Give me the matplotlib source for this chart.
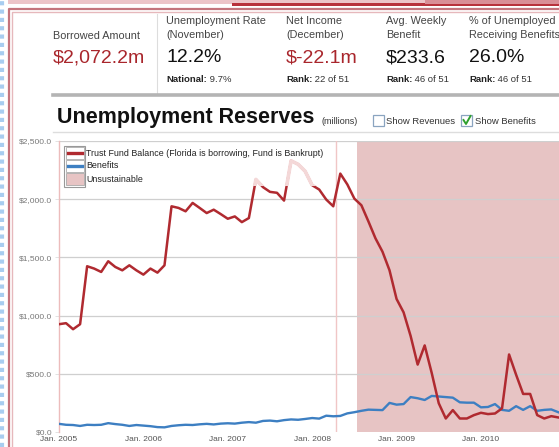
import matplotlib.pyplot as plt
from matplotlib.patches import Rectangle
from matplotlib.lines import Line2D

W, H = 559, 447

# monthly values starting Jan. 2005, millions of dollars
trust_fund = [926, 935, 883, 926, 1424, 1404, 1375, 1467, 1418, 1389, 1432, 1389,
              1352, 1404, 1369, 1432, 1939, 1925, 1896, 1968, 1925, 1881, 1910, 1872,
              1832, 1852, 1803, 1838, 2170, 2104, 2063, 2055, 1988, 2330, 2300, 2240,
              2120, 2083, 1997, 1939, 2220, 2127, 2005, 1948, 1809, 1664, 1549, 1389,
              1143, 1028, 825, 579, 744, 507, 247, 116, 188, 116, 116, 145,
              165, 154, 159, 203, 666, 492, 327, 327, 145, 116, 136, 125]
benefits = [70, 62, 60, 52, 62, 60, 62, 76, 68, 62, 52, 60,
            55, 50, 42, 40, 52, 58, 62, 60, 66, 70, 65, 72,
            75, 72, 80, 85, 80, 95, 98, 92, 102, 108, 105, 112,
            120, 115, 140, 135, 138, 160, 170, 182, 192, 190, 188, 250,
            235, 240, 300, 290, 275, 310, 305, 300, 295, 255, 252, 252,
            212, 215, 240, 190, 182, 222, 190, 222, 182, 190, 194, 170]
months = list(range(len(trust_fund)))

year_labels = ['Jan. 2005', 'Jan. 2006', 'Jan. 2007', 'Jan. 2008', 'Jan. 2009', 'Jan. 2010']
year_ticks = [0, 12, 24, 36, 48, 60]
y_ticks = [0, 500, 1000, 1500, 2000, 2500]

marker_month = 39.4        # thin vertical marker
unsustainable_from = 42.4  # start of shaded region
faded_before = 39.4        # line drawn faded above faded_level before this month
faded_level = 2110

header_titles = ['Borrowed Amount', 'Unemployment Rate\n(November)', 'Net Income\n(December)',
                 'Avg. Weekly\nBenefit', '% of Unemployed\nReceiving Benefits']
header_values = ['$2,072.2m', '12.2%', '$-22.1m', '$233.6', '26.0%']
header_colors = ['#a9262c', '#111111', '#a9262c', '#111111', '#111111']
header_notes = [None, ('National:', ' 9.7%'), ('Rank:', ' 22 of 51'),
                ('Rank:', ' 46 of 51'), ('Rank:', ' 46 of 51')]
header_x = [53, 166, 286, 386, 469]

legend_labels = ['Trust Fund Balance (Florida is borrowing, Fund is Bankrupt)',
                 'Benefits', 'Unsustainable']

RED = '#b02a30'
BLUE = '#3d7fc2'
SHADE = '#e7c4c4'
FONT = 'Liberation Sans'

plt.rcParams['font.family'] = [FONT, 'DejaVu Sans']


def fx(x):
    return x / W


def fy(y):
    return 1 - y / H


fig = plt.figure(figsize=(W / 100, H / 100), dpi=100)
fig.patch.set_facecolor('white')

# page decoration: dotted strip, frame, top bar
fig.add_artist(Line2D([fx(2), fx(2)], [0, 1], color='#a8cdf0', lw=3, ls=(0, (1, 1))))
fig.add_artist(Rectangle((fx(8), fy(4)), fx(W), 4 / H, color='#ecc4c8', lw=0))
fig.add_artist(Rectangle((fx(232), fy(6)), fx(W), 3 / H, color='#b8323c', lw=0))
fig.add_artist(Rectangle((fx(425), fy(4)), fx(W), 4 / H, color='#d98e96', lw=0))
fig.add_artist(Line2D([fx(8.5), fx(8.5), 1], [0, fy(8.5), fy(8.5)], color='#c4747c', lw=1.6))
fig.add_artist(Line2D([fx(11.5), fx(11.5), 1], [0, fy(11.5), fy(11.5)], color='#e6b8bc', lw=1.0))

# header metrics
fig.canvas.draw()
renderer = fig.canvas.get_renderer()
for i in range(len(header_titles)):
    x = fx(header_x[i])
    lines = header_titles[i].split('\n')
    if len(lines) == 1:
        fig.text(x, fy(36), lines[0], fontsize=7.8, color='#444444', va='center')
    else:
        fig.text(x, fy(21), lines[0], fontsize=7.8, color='#444444', va='center')
        fig.text(x, fy(35.5), lines[1], fontsize=7.8, color='#444444', va='center')
    fig.text(x, fy(58), header_values[i], fontsize=14, color=header_colors[i], va='center')
    if header_notes[i]:
        bold, rest = header_notes[i]
        t = fig.text(x, fy(80), bold, fontsize=6.8, fontweight='bold', color='#222222', va='center')
        bb = t.get_window_extent(renderer)
        fig.text(bb.x1 / W, fy(80), rest, fontsize=6.8, color='#333333', va='center')

fig.add_artist(Line2D([fx(157), fx(157)], [fy(14), fy(93)], color='#dddddd', lw=0.8))
fig.add_artist(Line2D([fx(53), 1], [fy(95), fy(95)], color='#b4b4b4', lw=2.6))

# chart title row
fig.text(fx(57), fy(118), 'Unemployment Reserves', fontsize=15.5, fontweight='bold',
         color='#111111', va='center')
fig.text(fx(321), fy(121), '(millions)', fontsize=6.5, color='#333333', va='center')
fig.add_artist(Rectangle((fx(373), fy(126)), 11 / W, 11 / H, facecolor='white',
                         edgecolor='#8aa4c0', lw=0.9))
fig.text(fx(386), fy(121), 'Show Revenues', fontsize=6.8, color='#333333', va='center')
fig.add_artist(Rectangle((fx(461), fy(126)), 11 / W, 11 / H, facecolor='white',
                         edgecolor='#8aa4c0', lw=0.9))
fig.add_artist(Line2D([fx(463.5), fx(466), fx(470.5)], [fy(120), fy(124), fy(116)],
                      color='#2ea02e', lw=1.4))
fig.text(fx(475), fy(121), 'Show Benefits', fontsize=6.8, color='#333333', va='center')
fig.add_artist(Line2D([fx(53), 1], [fy(132), fy(132)], color='#dddddd', lw=1))

# chart
ax = fig.add_axes([fx(59), fy(432), 1 - fx(59), fy(141) - fy(432)])
ax.set_xlim(0, 71.1)
ax.set_ylim(0, 2500)

ax.axvspan(unsustainable_from, 80, color=SHADE, lw=0, zorder=0.5)
for v in y_ticks[1:]:
    ax.axhline(v, color='#cfcfcf', lw=0.9, zorder=1)
ax.axvline(marker_month, color='#f0c6c6', lw=1, zorder=1.2)

ax.plot(months, benefits, color=BLUE, lw=1.7, zorder=3)
ax.plot(months, trust_fund, color=RED, lw=1.8, zorder=3)
faded = ax.plot(months, trust_fund, color='#f4d8d8', lw=2.6, zorder=3.5)[0]
clip = Rectangle((0, faded_level), faded_before, 1000, transform=ax.transData)
faded.set_clip_path(clip)

ax.set_yticks(y_ticks)
ax.set_yticklabels(['${:,.1f}'.format(v) for v in y_ticks])
ax.set_xticks(year_ticks)
ax.set_xticklabels(year_labels)
ax.tick_params(axis='y', labelsize=6, colors='#777777', length=3, width=0.6, pad=2)
ax.tick_params(axis='x', labelsize=6, colors='#555555', length=0, pad=3)
ax.tick_params(axis='y', color='#dddddd')

for s in ['top', 'right', 'bottom']:
    ax.spines[s].set_visible(False)
ax.spines['left'].set_color('#ecbcbc')
ax.spines['left'].set_linewidth(1)

# legend drawn like the original: boxed swatches, plain text
fig.add_artist(Rectangle((fx(64), fy(187)), 21 / W, 41 / H, facecolor='white',
                         edgecolor='#999999', lw=0.8))
row_y = [153, 166, 179]
for k in range(3):
    y = row_y[k]
    face = SHADE if k == 2 else 'white'
    fig.add_artist(Rectangle((fx(65.5), fy(y + 5.5)), 18 / W, 11 / H, facecolor=face,
                             edgecolor='#aaaaaa', lw=0.6))
    if k < 2:
        fig.add_artist(Line2D([fx(67.5), fx(81.5)], [fy(y), fy(y)],
                              color=[RED, BLUE][k], lw=2.4))
    fig.text(fx(86), fy(y), legend_labels[k], fontsize=6.4, color='#222222', va='center')

fig.savefig('out.png', dpi=100)
